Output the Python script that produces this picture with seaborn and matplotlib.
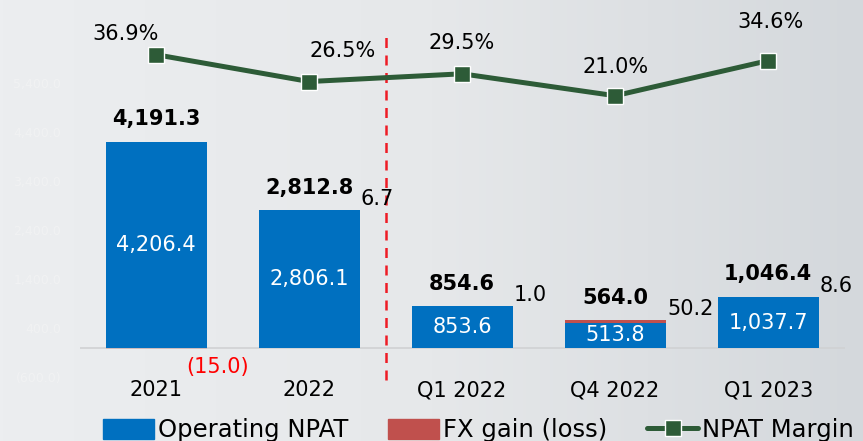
import seaborn as sns
import matplotlib.pyplot as plt
import pandas as pd
import numpy as np
from matplotlib.lines import Line2D
from matplotlib.patches import Patch
from matplotlib.colors import LinearSegmentedColormap

# Chart data
periods = ["2021", "2022", "Q1 2022", "Q4 2022", "Q1 2023"]
operating_npat = [4206.4, 2806.1, 853.6, 513.8, 1037.7]
fx_gain = [-15.0, 6.7, 1.0, 50.2, 8.6]
total_npat = [4191.3, 2812.8, 854.6, 564.0, 1046.4]
npat_margin = [36.9, 26.5, 29.5, 21.0, 34.6]
ytick_values = [-600, 400, 1400, 2400, 3400, 4400, 5400]

df = pd.DataFrame({"period": periods, "operating": operating_npat,
                   "fx": fx_gain, "total": total_npat, "margin": npat_margin})

BLUE = "#0070c0"
RED = "#c0504d"
GREEN = "#2d5b37"
BG = "#e8e9eb"

sns.set_theme(style="white")
plt.rcParams["font.family"] = ["DejaVu Sans"]
plt.rcParams["text.color"] = "black"

fig = plt.figure(figsize=(8.63, 4.41), dpi=100)
fig.patch.set_facecolor(BG)

# soft grey gradient background, lighter on the left
bg_ax = fig.add_axes([0, 0, 1, 1], zorder=-1)
grad = np.linspace(0, 1, 256).reshape(1, -1)
bg_cmap = LinearSegmentedColormap.from_list("bg", ["#eceef0", "#e6e8ea", "#d4d8dc"])
bg_ax.imshow(grad, aspect="auto", cmap=bg_cmap, extent=[0, 1, 0, 1])
bg_ax.set_axis_off()

ax = fig.add_axes([0, 0, 1, 1])
ax.set_facecolor("none")

x = np.arange(len(periods))
bw = 0.66

sns.barplot(data=df, x="period", y="operating", color=BLUE, saturation=1,
            width=bw, ax=ax, zorder=2, linewidth=0)
fx = df["fx"].to_numpy()
ax.bar(x, fx, bottom=np.where(fx > 0, df["operating"], 0), width=bw,
       color=RED, linewidth=0, zorder=1)

ax.set_xlim(-1.02, 4.62)
ax.set_ylim(-1898, 7102)
for s in ax.spines.values():
    s.set_visible(False)
ax.set_xlabel("")
ax.set_ylabel("")
ax.set_xticks([])
ax.set_yticks(ytick_values)
ax.set_yticklabels([f"({abs(v):,.1f})" if v < 0 else f"{v:,.1f}" for v in ytick_values])
ax.tick_params(axis="y", length=0, pad=-44, labelsize=9, labelcolor="#f1f2f3")

# zero line and period divider
ax.hlines(0, -0.5, 4.5, color="#d0d1d3", lw=1.2, zorder=1.5)
ax.vlines(1.5, -650, 6390, color="#ee1c25", lw=1.8, linestyles=(0, (4, 3)), zorder=3)

# labels on bars
for i in x:
    op = df["operating"][i]
    ax.text(i, op / 2, f"{op:,.1f}", ha="center", va="center", color="white", fontsize=15)
    ax.annotate(f"{df['total'][i]:,.1f}", (i, max(op, df["total"][i])),
                xytext=(0, 9), textcoords="offset points", ha="center", va="bottom",
                fontsize=15, fontweight="bold", color="black")
    f = df["fx"][i]
    if f < 0:
        ax.text(i + 0.2, -180, f"({abs(f):.1f})", ha="left", va="top", color="#ff0000", fontsize=15)
    else:
        ax.annotate(f"{f:.1f}", (i + bw / 2, op + f), xytext=(1, 8), textcoords="offset points",
                    ha="left", va="center", fontsize=15, color="black")
    ax.text(i, -860, periods[i], ha="center", va="center", fontsize=15, color="black")

# margin line on secondary axis
ax2 = ax.twinx()
sns.lineplot(x=x, y=df["margin"], ax=ax2, color=GREEN, lw=3.6, marker="s",
             markersize=12, markeredgecolor="white", markeredgewidth=1.0, zorder=4)
ax2.set_ylim(-112.8, 58.1)
ax2.set_axis_off()
offsets = [(-22, 15), (24, 22), (0, 22), (0, 21), (2, 28)]
for i in x:
    ax2.annotate(f"{df['margin'][i]:.1f}%", (i, df["margin"][i]), xytext=offsets[i],
                 textcoords="offset points", ha="center", va="center", fontsize=15)

handles = [Patch(color=BLUE, label="Operating NPAT"),
           Patch(color=RED, label="FX gain (loss)"),
           Line2D([], [], color=GREEN, lw=3.6, marker="s", markersize=12,
                  markeredgecolor="white", markeredgewidth=1.0, label="NPAT Margin")]
fig.legend(handles=handles, loc="center left", bbox_to_anchor=(103 / 863, 11 / 441),
           ncol=3, frameon=False, fontsize=17.5, borderpad=0, borderaxespad=0,
           handlelength=2.1, handleheight=0.9, handletextpad=0.15, columnspacing=1.65)

fig.savefig("out.png", dpi=100, facecolor=BG)
